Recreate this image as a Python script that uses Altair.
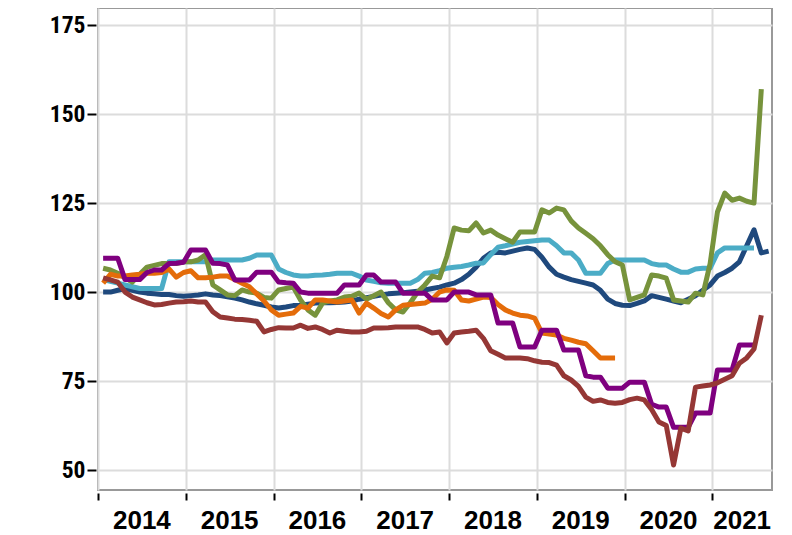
import altair as alt
import pandas as pd

# ---------------- data (monthly, starting January 2014) ----------------
START_YEAR = 2014
series_names = ["Navy", "LightBlue", "Green", "Orange", "Purple", "DarkRed"]
series_colors = ["#1f497d", "#4bacc6", "#77933c", "#e46c0a", "#7f007f", "#953735"]

navy = [
    100, 100, 100.5, 101, 100.5, 100, 99.7, 99.5, 99.3, 99.3, 99, 98.8,
    99, 99.2, 99.5, 99.2, 99, 98.7, 98.3, 97.8, 97.2, 96.7, 96.3, 95.8,
    95.5, 95.8, 96.2, 96.3, 96.6, 96.9, 97, 97, 97.1, 97.2, 97.5, 98,
    98.4, 98.8, 99.2, 99.5, 99.7, 99.8, 100, 100.2, 100.6, 101, 101.4, 102,
    102.5, 103.5, 105, 107, 109.5, 111, 111.2, 111, 111.5, 112, 112.4, 112,
    109.8, 107, 105, 104.2, 103.5, 103, 102.5, 102, 100.5, 98, 96.8, 96.3,
    96.2, 96.8, 97.5, 99, 98.5, 98, 97.5, 97, 98, 99, 100.5, 102,
    104.5, 105.5, 106.7, 108.5, 113, 117.5, 111, 111.5,
]
light_blue = [
    103.5, 103, 102.5, 102, 101.5, 101, 101, 101, 101, 108.5, 108.5, 108.5,
    108.5, 108.5, 108.5, 109, 109, 109, 109, 109, 109.5, 110.4, 110.4, 110.4,
    106.5, 105.5, 104.8, 104.5, 104.5, 104.7, 104.8, 105, 105.3, 105.3, 105.3, 104.5,
    103.4, 103, 102.6, 102.5, 102.5, 102.5, 102.5, 103.5, 105.3, 105.5, 106, 106.7,
    107, 107.2, 107.6, 108.1, 108.2, 110.5, 112.6, 113, 113.5, 114, 114.2, 114.4,
    114.6, 114.6, 113, 111, 111, 109, 105.3, 105.3, 105.3, 108, 109, 109,
    109, 109, 109, 108, 107.6, 107.6, 106.5, 105.6, 105.6, 106.5, 106.7, 106.7,
    111, 112.4, 112.4, 112.4, 112.4, 112.4,
]
green = [
    106.7, 106.2, 105.3, 104, 102.8, 105, 107, 107.5, 108, 108, 108, 108.5,
    108.5, 109, 110.5, 102, 100.6, 99.2, 99, 100.6, 100, 99.7, 98.5, 98.3,
    100.6, 101, 101.4, 97.8, 95, 93.5, 96.9, 97.5, 97.8, 98.6, 98.8, 99.7,
    98, 99, 100, 97, 95, 94.4, 97, 100, 102, 104.5, 104, 110,
    118, 117.4, 117.2, 119.4, 116.6, 117.4, 116, 115, 114, 116.9, 116.9, 116.9,
    123.1, 122.2, 123.6, 123.1, 120, 118, 116.5, 115, 113, 110.5, 108.5, 107.6,
    97.8, 98.5, 99.2, 104.8, 104.5, 103.9, 97.8, 97.5, 97.2, 99.7, 99.2, 108,
    122.5, 127.8, 125.8, 126.4, 125.5, 125, 157,
]
orange = [
    102.5, 105, 104.5, 104.5, 104.8, 105, 105.3, 105.3, 105.5, 106.5, 104.2, 105.5,
    106, 104, 104, 104.2, 104.5, 104.5, 103.5, 102.5, 101.5, 99.5, 97.5, 95,
    93.5, 93.8, 94.1, 96, 95.5, 97.8, 97.8, 97.5, 97.2, 97.5, 97.8, 94.1,
    96.9, 95.5, 94, 93, 95, 96.3, 96.5, 96.7, 96.9, 98, 100, 100.6,
    100.5, 97.8, 97.5, 98, 98.6, 98.5, 96.5, 95, 94.1, 93.5, 93.3, 92.7,
    88.5, 88.2, 87.9, 87, 86.5, 85.9, 85.5, 83.5, 81.5, 81.5, 81.5,
]
purple = [
    109.5, 109.5, 109.5, 103.5, 103.5, 103.5, 105.5, 106.2, 106.2, 108, 108.1, 108.4,
    111.8, 111.8, 111.8, 108.1, 108, 107.6, 103.4, 103.4, 103.4, 105.6, 105.6, 105.6,
    102.8, 102.6, 102.5, 100, 99.7, 99.7, 99.7, 99.7, 99.7, 102, 102, 102,
    104.8, 104.8, 102.8, 102.8, 102.8, 99.7, 99.7, 99.7, 99.7, 97.8, 97.8, 97.8,
    100, 100, 100, 99.2, 99.2, 99.2, 91.3, 91.3, 91.3, 84.6, 84.6, 84.6,
    89.3, 89.3, 89.3, 83.7, 83.7, 83.7, 76.5, 76.1, 76.1, 73, 73, 73,
    74.7, 74.7, 74.7, 68.5, 67.7, 67.7, 62, 62, 62, 66, 66, 66,
    78.1, 78.1, 78.1, 85.1, 85.1, 85.1,
]
dark_red = [
    104, 103.4, 102.8, 100, 98.6, 97.8, 97, 96.4, 96.5, 96.9, 97.2, 97.3,
    97.5, 97.2, 97.2, 94.5, 93, 92.7, 92.4, 92.3, 92.1, 91.8, 88.8, 89.5,
    90, 89.9, 89.9, 90.7, 89.8, 90.2, 89.5, 88.5, 89.3, 89, 88.8, 88.8,
    89, 89.9, 89.9, 90, 90.2, 90.2, 90.2, 90.2, 89.5, 88.5, 88.8, 85.7,
    88.5, 88.8, 89, 89.3, 87, 83.5, 82.5, 81.5, 81.5, 81.5, 81.3, 80.7,
    80.3, 80.2, 79.5, 76.5, 75.3, 73.5, 70.5, 69.3, 69.7, 69, 68.8, 69,
    69.8, 70.2, 69.7, 67, 63.5, 62.5, 51.4, 61.8, 61, 73.3, 73.6, 73.9,
    74.5, 75.5, 76.5, 80, 81.5, 84, 93.5,
]

year_ticks = [2014, 2015, 2016, 2017, 2018, 2019, 2020, 2021]
year_labels = ["2014", "2015", "2016", "2017", "2018", "2019", "2020", "2021"]
y_ticks = [50, 75, 100, 125, 150, 175]

# ---------------- layout ----------------
X_DOMAIN = [2014.0, 2021.68]
Y_DOMAIN = [44.4, 179.8]
W, H = 674, 482

all_series = [navy, light_blue, green, orange, purple, dark_red]
rows = []
for name, vals in zip(series_names, all_series):
    for i, v in enumerate(vals):
        rows.append({"series": name, "t": START_YEAR + (i + 0.7) / 12.0, "value": v})
df = pd.DataFrame(rows)

# year labels centred in each year (last one kept inside the plot)
lab_t = []
for yr in year_ticks:
    c = yr + 0.5
    if c + 0.33 > X_DOMAIN[1]:
        c = X_DOMAIN[1] - 0.34
    lab_t.append(c)
df_lab = pd.DataFrame({"t": lab_t, "label": year_labels})

x_enc = alt.X(
    "t:Q",
    title=None,
    scale=alt.Scale(domain=X_DOMAIN, nice=False, zero=False),
    axis=alt.Axis(
        values=year_ticks, labels=False, ticks=True, tickColor="black",
        tickSize=7, tickWidth=2, offset=3, domain=False, grid=True,
        gridColor="#dcdcdc", gridWidth=2,
    ),
)
y_enc = alt.Y(
    "value:Q",
    title=None,
    scale=alt.Scale(domain=Y_DOMAIN, nice=False, zero=False),
    axis=alt.Axis(
        values=y_ticks,
        labelFont="Roboto Condensed, Liberation Sans Narrow, Liberation Sans, Arial, sans-serif",
        labelFontSize=23.5, labelFontWeight="bold", labelColor="black",
        tickColor="black", tickSize=9, tickWidth=2, offset=2, labelPadding=2,
        domain=False, grid=True, gridColor="#dcdcdc", gridWidth=2,
    ),
)

layers = []
for name, col in zip(series_names, series_colors):
    layers.append(
        alt.Chart(df)
        .transform_filter(alt.datum.series == name)
        .mark_line(color=col, strokeWidth=5, clip=True, strokeJoin="round")
        .encode(x=x_enc, y=y_enc)
    )

labels = (
    alt.Chart(df_lab)
    .mark_text(font="Liberation Sans, Arial, sans-serif", fontSize=26, fontWeight="bold",
               color="black", align="center", baseline="middle")
    .encode(x=x_enc, y=alt.value(H + 31), text="label:N")
)

chart = (
    alt.layer(*layers, labels)
    .properties(
        width=W, height=H,
        autosize=alt.AutoSizeParams(type="none"),
        padding={"left": 90, "top": 0, "right": 12, "bottom": 45},
        background="white",
    )
    .configure_view(stroke="#999999", strokeWidth=2)
)

chart.save("out.html", embed_options={"renderer": "svg", "actions": False})
